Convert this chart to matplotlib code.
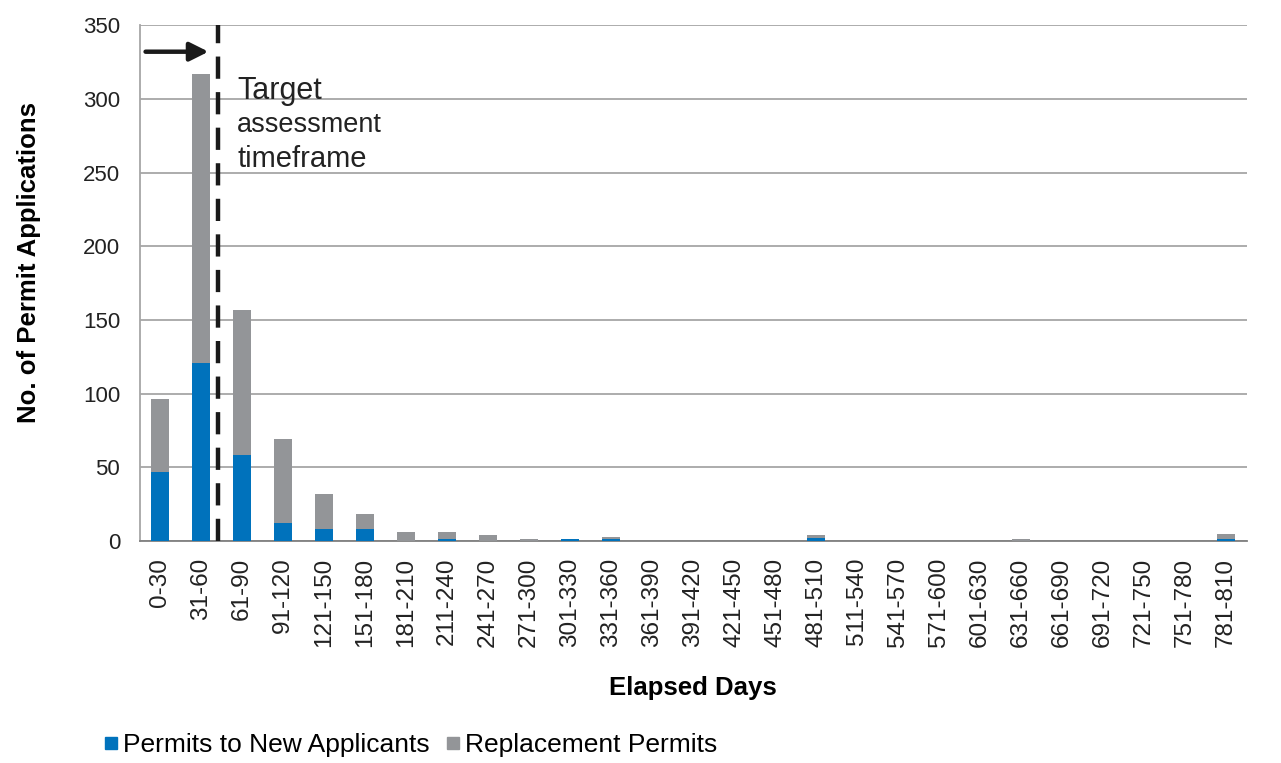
import numpy as np
import matplotlib
matplotlib.use("Agg")
from matplotlib import pyplot as plt

plt.rcParams['font.family'] = ['Liberation Sans', 'DejaVu Sans']

categories = ["0-30", "31-60", "61-90", "91-120", "121-150", "151-180", "181-210",
              "211-240", "241-270", "271-300", "301-330", "331-360", "361-390",
              "391-420", "421-450", "451-480", "481-510", "511-540", "541-570",
              "571-600", "601-630", "631-660", "661-690", "691-720", "721-750",
              "751-780", "781-810"]
new_applicants = [47, 121, 58, 12, 8, 8, 0, 1, 0, 0, 1, 1, 0, 0, 0, 0, 2, 0, 0, 0, 0, 0, 0, 0, 0, 0, 1]
replacement = [49, 196, 99, 57, 24, 10, 6, 5, 4, 1, 0, 2, 0, 0, 0, 0, 2, 0, 0, 0, 0, 1, 0, 0, 0, 0, 4]

blue = "#0072BC"
grey = "#939598"

fig = plt.figure(figsize=(12.81, 7.63), dpi=100)
ax = fig.add_axes([0.1089, 0.291, 0.8642, 0.676])

x = np.arange(len(categories))
ax.bar(x, new_applicants, width=0.42, color=blue, label="Permits to New Applicants", zorder=3)
ax.bar(x, replacement, width=0.42, bottom=new_applicants, color=grey,
       label="Replacement Permits", zorder=3)

ax.set_xlim(-0.5, len(categories) - 0.5)
ax.set_ylim(0, 350)
ax.set_yticks(range(0, 351, 50))
ax.yaxis.grid(True, color="#A6A6A6", linewidth=1.3, zorder=0)
ax.set_xticks(x)
ax.set_xticklabels(categories, rotation=90, fontsize=17.5, color="#222222")
ax.tick_params(axis="y", labelsize=16, colors="#222222", length=0, pad=14)
ax.tick_params(axis="x", length=0, pad=12)
for s in ["top", "right"]:
    ax.spines[s].set_visible(False)
ax.spines["left"].set_color("#A6A6A6")
ax.spines["bottom"].set_color("#808080")
ax.spines["left"].set_linewidth(1.3)
ax.spines["bottom"].set_linewidth(1.3)

# target timeframe marker
ax.axvline(1.415, color="#1a1a1a", linewidth=3.2, linestyle=(0, (5, 3)), zorder=4)
ax.annotate("", xy=(1.25, 332), xytext=(-0.42, 332),
            arrowprops=dict(arrowstyle="-|>", color="#1a1a1a", lw=3.2, mutation_scale=28))
ax.text(1.88, 305, "Target", fontsize=22, color="#222222", va="center")
ax.text(1.88, 282, "assessment", fontsize=19.5, color="#222222", va="center")
ax.text(1.88, 259, "timeframe", fontsize=21, color="#222222", va="center")

ax.set_ylabel("No. of Permit Applications", fontsize=18.5, fontweight="bold")
ax.yaxis.set_label_coords(-0.089, 0.54)
fig.text(0.541, 0.098, "Elapsed Days", fontsize=18.5, fontweight="bold", ha="center", va="center")

handles = [plt.Line2D([], [], marker="s", linestyle="", color=blue, markersize=9),
           plt.Line2D([], [], marker="s", linestyle="", color=grey, markersize=9)]
fig.legend(handles, ["Permits to New Applicants", "Replacement Permits"], loc="center left",
           bbox_to_anchor=(0.06, 0.023), ncol=2, frameon=False, fontsize=19,
           handletextpad=0.05, columnspacing=0.5, handlelength=0.8)

plt.savefig("out.png", dpi=100)
